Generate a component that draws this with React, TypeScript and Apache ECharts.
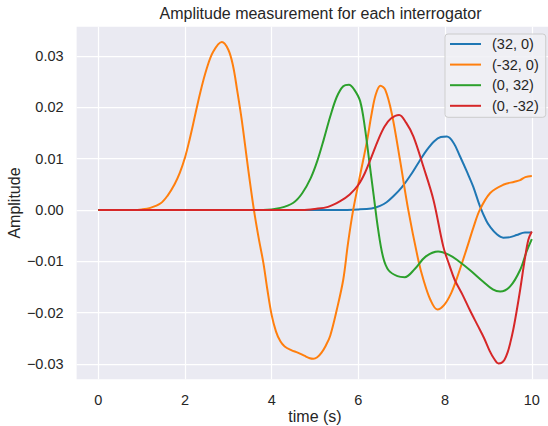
import React, { useEffect, useRef } from "react";
import * as echarts from "echarts";

const seriesNames = ["(32, 0)", "(-32, 0)", "(0, 32)", "(0, -32)"];
const seriesColors = ["#1f77b4", "#ff7f0e", "#2ca02c", "#d62728"];

const xTicks = [0, 2, 4, 6, 8, 10];
const yTicks = [-0.03, -0.02, -0.01, 0, 0.01, 0.02, 0.03];

// (32, 0)
const blueT = [0, 5.5, 6.0, 6.3, 6.5, 6.65, 6.8, 7.0, 7.19, 7.4, 7.58, 7.75, 7.9, 8.04, 8.2, 8.34, 8.5, 8.65, 8.8, 8.95, 9.04, 9.2, 9.34, 9.5, 9.65, 9.84, 10];
const blueV = [0, 0, 0.0001, 0.0003, 0.0008, 0.0015, 0.0026, 0.0044, 0.0066, 0.0094, 0.0117, 0.0134, 0.0142, 0.0143, 0.013, 0.0105, 0.0075, 0.0045, 0.0008, -0.0021, -0.0033, -0.0048, -0.0054, -0.0053, -0.0049, -0.0044, -0.0044];

// (-32, 0)
const orangeT = [0, 0.8, 1.0, 1.2, 1.44, 1.6, 1.76, 1.88, 2.0, 2.1, 2.19, 2.35, 2.5, 2.65, 2.85, 3.0, 3.11, 3.2, 3.31, 3.46, 3.59, 3.7, 3.81, 3.9, 4.0, 4.1, 4.2, 4.3, 4.45, 4.6, 4.75, 4.88, 4.96, 5.05, 5.15, 5.25, 5.35, 5.5, 5.65, 5.76, 5.88, 6.04, 6.2, 6.3, 6.4, 6.51, 6.62, 6.77, 6.96, 7.15, 7.38, 7.5, 7.66, 7.82, 7.98, 8.14, 8.26, 8.5, 8.65, 8.8, 9.04, 9.34, 9.6, 9.73, 9.85, 10];
const orangeV = [0, 0, 0.0001, 0.0004, 0.0013, 0.0028, 0.005, 0.0072, 0.0102, 0.0135, 0.0168, 0.0228, 0.0275, 0.0308, 0.0327, 0.0312, 0.028, 0.0235, 0.0175, 0.0078, 0, -0.0055, -0.0104, -0.0155, -0.0205, -0.0237, -0.0256, -0.0266, -0.0273, -0.0278, -0.0284, -0.0289, -0.029, -0.0287, -0.0278, -0.0264, -0.0245, -0.0195, -0.0136, -0.0065, 0, 0.0068, 0.0135, 0.0185, 0.0225, 0.0242, 0.0234, 0.0188, 0.0097, 0, -0.0097, -0.0136, -0.0175, -0.0194, -0.0185, -0.0162, -0.0136, -0.0075, -0.0035, 0, 0.0033, 0.0049, 0.0055, 0.0058, 0.0064, 0.0066];

// (0, 32)
const greenT = [0, 3.8, 4.2, 4.5, 4.7, 4.9, 5.05, 5.2, 5.35, 5.5, 5.65, 5.78, 5.9, 6.04, 6.15, 6.25, 6.35, 6.45, 6.57, 6.7, 6.9, 7.07, 7.3, 7.55, 7.84, 8.1, 8.3, 8.57, 8.88, 9.1, 9.27, 9.5, 9.73, 9.88, 10];
const greenV = [0, 0, 0.0004, 0.0014, 0.0032, 0.0062, 0.0095, 0.0137, 0.0182, 0.022, 0.0241, 0.0244, 0.0235, 0.0212, 0.016, 0.0095, 0.003, -0.0035, -0.0092, -0.0118, -0.0129, -0.0131, -0.0115, -0.0091, -0.0081, -0.0088, -0.0099, -0.0117, -0.014, -0.0155, -0.0159, -0.0149, -0.0117, -0.0081, -0.0057];

// (0, -32)
const redT = [0, 4.7, 5.0, 5.3, 5.58, 5.8, 6.0, 6.15, 6.3, 6.45, 6.6, 6.75, 6.94, 7.1, 7.27, 7.5, 7.73, 7.96, 8.1, 8.22, 8.4, 8.57, 8.75, 8.9, 9.03, 9.13, 9.23, 9.3, 9.37, 9.44, 9.5, 9.57, 9.65, 9.73, 9.84, 9.92, 10];
const redV = [0, 0, 0.0002, 0.0006, 0.0017, 0.003, 0.0049, 0.0072, 0.0103, 0.0135, 0.0162, 0.0178, 0.0185, 0.017, 0.0143, 0.0084, 0.002, -0.0072, -0.0108, -0.0136, -0.0165, -0.0195, -0.0225, -0.025, -0.0275, -0.029, -0.0299, -0.0298, -0.0292, -0.0278, -0.026, -0.0234, -0.0197, -0.0156, -0.0095, -0.0058, -0.0042];

const allT = [blueT, orangeT, greenT, redT];
const allV = [blueV, orangeV, greenV, redV];

const FONT = "'Liberation Sans', Arial, sans-serif";
const TEXT = "#262626";

export default function App() {
  const ref = useRef<HTMLDivElement>(null);
  useEffect(() => {
    if (!ref.current) return;
    const chart = echarts.init(ref.current, undefined, { renderer: "svg" });
    const dataSeries = seriesNames.map((name, i) => ({
      name,
      type: "line",
      data: allT[i].map((t, j) => [t, allV[i][j]]),
      showSymbol: false,
      symbol: "none",
      smooth: 0.35,
      z: 3,
      lineStyle: { color: seriesColors[i], width: 2 },
      itemStyle: { color: seriesColors[i] },
    }));
    const gridSeries = {
      name: "grid",
      type: "line",
      data: [[0, 0]],
      symbol: "none",
      lineStyle: { opacity: 0 },
      z: 1,
      silent: true,
      markLine: {
        silent: true,
        z: 1,
        symbol: ["none", "none"],
        label: { show: false },
        lineStyle: { color: "#ffffff", width: 1.25, type: "solid" },
        emphasis: { disabled: true },
        data: [
          ...xTicks.map((x) => ({ xAxis: x })),
          ...yTicks.map((y) => ({ yAxis: y })),
        ],
      },
    };
    chart.setOption({
      animation: false,
      textStyle: { fontFamily: FONT },
      title: {
        text: "Amplitude measurement for each interrogator",
        left: 315.5,
        top: 0.5,
        textAlign: "center",
        textStyle: { fontSize: 16, fontWeight: "normal", color: TEXT, fontFamily: FONT },
      },
      graphic: [
        {
          type: "text",
          x: 315,
          y: 416,
          style: {
            text: "time (s)",
            fontSize: 16,
            fontFamily: FONT,
            fill: TEXT,
            align: "center",
            verticalAlign: "middle",
          },
        },
        {
          type: "text",
          x: 14,
          y: 203,
          rotation: Math.PI / 2,
          style: {
            text: "Amplitude",
            fontSize: 16,
            fontFamily: FONT,
            fill: TEXT,
            align: "center",
            verticalAlign: "middle",
          },
        },
      ],
      legend: {
        data: seriesNames,
        orient: "vertical",
        left: 445,
        top: 34,
        icon: "rect",
        itemWidth: 31,
        itemHeight: 2,
        itemGap: 5.6,
        padding: [2.5, 7, 4, 5],
        backgroundColor: "rgba(240,240,245,0.85)",
        borderColor: "#cccccc",
        borderWidth: 1,
        borderRadius: 3,
        textStyle: { fontSize: 14.5, color: TEXT, fontFamily: FONT, padding: [0, 0, 0, 6] },
      },
      grid: {
        left: 76.6,
        top: 26.7,
        width: 476.9,
        height: 352.6,
        show: true,
        backgroundColor: "#EAEAF2",
        borderWidth: 0,
        containLabel: false,
        outerBoundsMode: "none",
      },
      xAxis: {
        type: "value",
        min: -0.5,
        max: 10.5,
        axisLine: { show: false },
        axisTick: { show: false },
        splitLine: { show: false },
        axisLabel: {
          customValues: xTicks,
          fontSize: 14.5,
          color: TEXT,
          margin: 13,
          fontFamily: FONT,
          formatter: (v: number) => String(v),
        },
      },
      yAxis: {
        type: "value",
        min: -0.033,
        max: 0.0357,
        axisLine: { show: false },
        axisTick: { show: false },
        splitLine: { show: false },
        axisLabel: {
          customValues: yTicks,
          fontSize: 14.5,
          color: TEXT,
          margin: 13,
          fontFamily: FONT,
          formatter: (v: number) => v.toFixed(2).replace("-", "\u2212"),
        },
      },
      series: [gridSeries, ...dataSeries],
    });
    return () => chart.dispose();
  }, []);
  return (
    <div
      ref={ref}
      style={{ position: "fixed", left: 0, top: 0, width: 548, height: 426, background: "#ffffff" }}
    />
  );
}
